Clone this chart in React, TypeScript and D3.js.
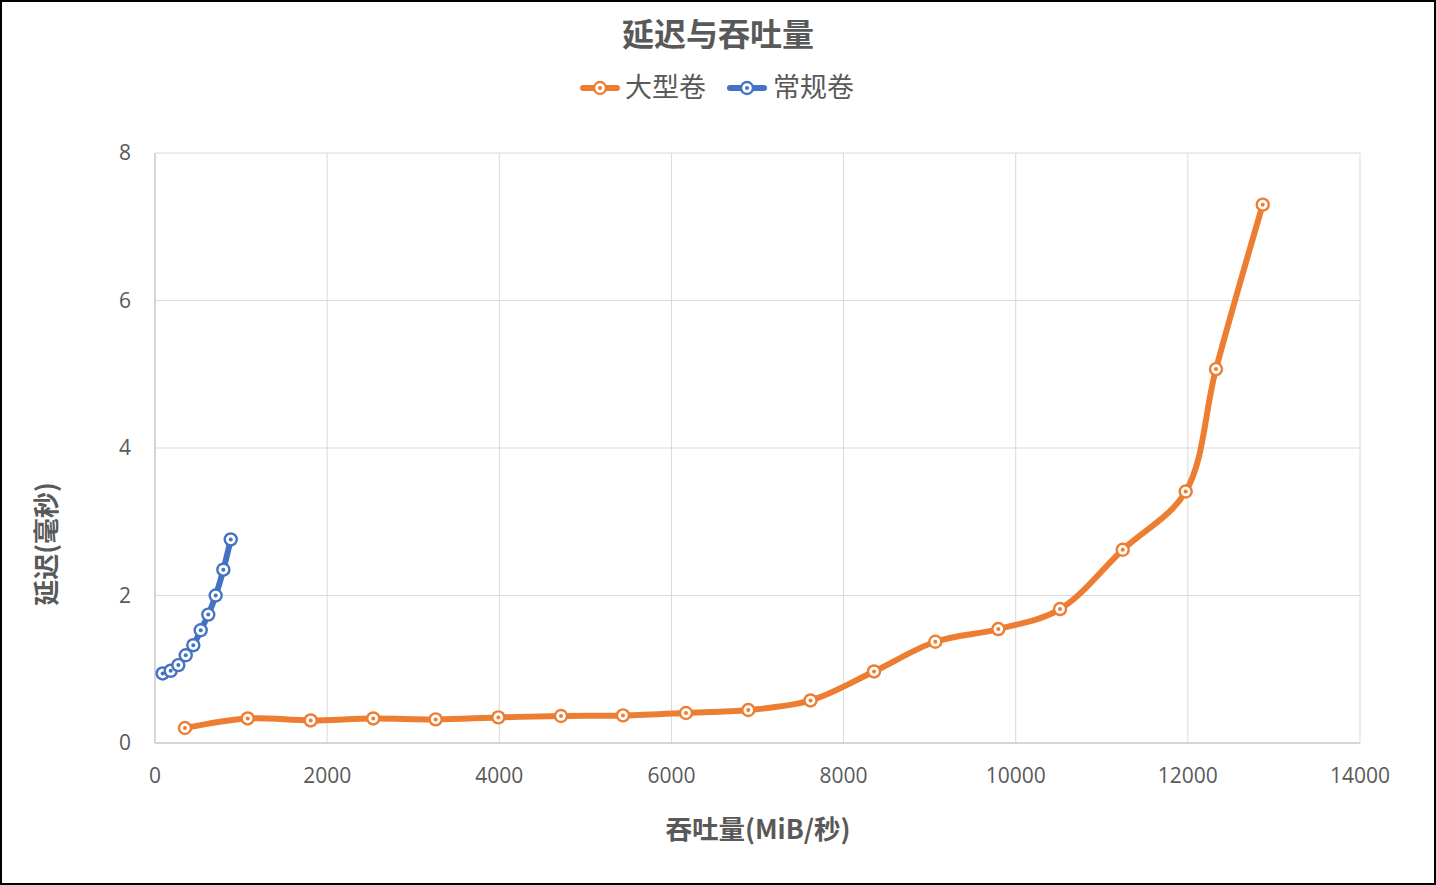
import React from 'react';
import * as d3 from 'd3';

// 大型卷 series
const largeX = [348, 1077, 1809, 2536, 3261, 3989, 4717, 5437, 6169, 6893, 7616, 8354, 9066, 9798, 10515, 11243, 11975, 12327, 12870];
const largeY = [0.203, 0.333, 0.306, 0.333, 0.32, 0.347, 0.366, 0.374, 0.407, 0.447, 0.577, 0.97, 1.373, 1.545, 1.816, 2.62, 3.41, 5.07, 7.3];

// 常规卷 series
const regularX = [89, 182, 271, 357, 445, 531, 619, 705, 794, 880];
const regularY = [0.943, 0.979, 1.056, 1.19, 1.326, 1.529, 1.741, 2.0, 2.35, 2.76];

const xTicks = [0, 2000, 4000, 6000, 8000, 10000, 12000, 14000];
const yTicks = [0, 2, 4, 6, 8];

const seriesNames = ['大型卷', '常规卷'];
const seriesColors = ['#ED7D31', '#4472C4'];

const W = 1436;
const H = 885;
const margin = { left: 155, right: 76, top: 153, bottom: 142 };

const cjk = '"Noto Sans CJK SC", "Noto Sans", sans-serif';
const num = '"Open Sans", "Noto Sans", sans-serif';
const textColor = '#595959';

const Marker = ({ cx, cy, color }: { cx: number; cy: number; color: string }) => (
  <g>
    <circle cx={cx} cy={cy} r={7.2} fill={color} />
    <circle cx={cx} cy={cy} r={4.8} fill="#fff" />
    <circle cx={cx} cy={cy} r={2} fill={color} />
  </g>
);

const App = () => {
  const x = d3.scaleLinear().domain([0, 14000]).range([margin.left, W - margin.right]);
  const y = d3.scaleLinear().domain([0, 8]).range([H - margin.bottom, margin.top]);

  const line = d3
    .line<[number, number]>()
    .x((d) => x(d[0]))
    .y((d) => y(d[1]))
    .curve(d3.curveCatmullRom.alpha(0.5));

  const series = [
    largeX.map((v, i) => [v, largeY[i]] as [number, number]),
    regularX.map((v, i) => [v, regularY[i]] as [number, number]),
  ];

  const legendY = 88;
  const legendItems = [
    { x0: 583, tx: 625 },
    { x0: 730, tx: 773 },
  ];

  return (
    <div style={{ position: 'absolute', left: 0, top: 0 }}>
      <svg width={W} height={H} style={{ display: 'block', background: '#fff' }}>
        <rect x={1} y={1} width={W - 2} height={H - 2} fill="#fff" stroke="#000" strokeWidth={2} />

        {/* grid */}
        {xTicks.map((t) => (
          <line key={'gx' + t} x1={x(t)} x2={x(t)} y1={y(8)} y2={y(0)} stroke="#d9d9d9" strokeWidth={1} />
        ))}
        {yTicks.map((t) => (
          <line key={'gy' + t} x1={x(0)} x2={x(14000)} y1={y(t)} y2={y(t)} stroke="#d9d9d9" strokeWidth={1} />
        ))}
        <line x1={x(0)} x2={x(14000)} y1={y(0)} y2={y(0)} stroke="#bfbfbf" strokeWidth={1} />
        <line x1={x(0)} x2={x(0)} y1={y(0)} y2={y(8)} stroke="#bfbfbf" strokeWidth={1} />

        {/* tick labels */}
        {xTicks.map((t) => (
          <text key={'tx' + t} x={x(t)} y={783} textAnchor="middle" fontFamily={num} fontSize={21} fill={textColor}>
            {t}
          </text>
        ))}
        {yTicks.map((t) => (
          <text key={'ty' + t} x={131} y={y(t) + 7} textAnchor="end" fontFamily={num} fontSize={21} fill={textColor}>
            {t}
          </text>
        ))}

        {/* series */}
        {series.map((pts, si) => (
          <g key={'s' + si}>
            <path d={line(pts) || ''} fill="none" stroke={seriesColors[si]} strokeWidth={6} strokeLinecap="round" strokeLinejoin="round" />
            {pts.map((p, i) => (
              <Marker key={i} cx={x(p[0])} cy={y(p[1])} color={seriesColors[si]} />
            ))}
          </g>
        ))}

        {/* title */}
        <text x={718} y={46} textAnchor="middle" fontFamily={cjk} fontWeight="bold" fontSize={32} fill={textColor}>
          延迟与吞吐量
        </text>

        {/* legend */}
        {legendItems.map((it, i) => (
          <g key={'lg' + i}>
            <line x1={it.x0} x2={it.x0 + 34} y1={legendY} y2={legendY} stroke={seriesColors[i]} strokeWidth={6} strokeLinecap="round" />
            <Marker cx={it.x0 + 17} cy={legendY} color={seriesColors[i]} />
            <text x={it.tx} y={legendY + 9} fontFamily={cjk} fontSize={27} fill={textColor}>
              {seriesNames[i]}
            </text>
          </g>
        ))}

        {/* axis titles */}
        <text x={758} y={839} textAnchor="middle" fontFamily={cjk} fontWeight="bold" fontSize={26.5} fill={textColor}>
          吞吐量(MiB/秒)
        </text>
        <text
          transform={`translate(56, 544) rotate(-90)`}
          textAnchor="middle"
          fontFamily={cjk}
          fontWeight="bold"
          fontSize={26}
          fill={textColor}
        >
          延迟(毫秒)
        </text>
      </svg>
    </div>
  );
};

export default App;
